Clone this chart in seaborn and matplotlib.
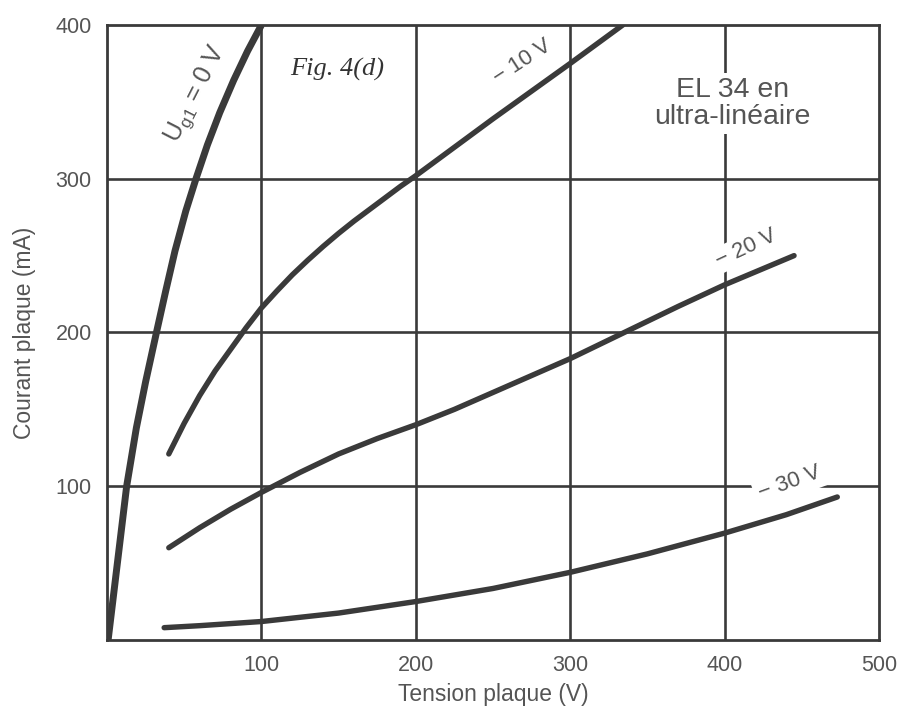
import matplotlib
matplotlib.use("Agg")
import matplotlib.pyplot as plt
import seaborn as sns
import pandas as pd

# ---- data ----
v_0 = [0.7, 5.5, 12.7, 19, 25, 32, 38, 44, 51, 57.6, 65, 73, 82, 91, 100]
i_0 = [0, 40, 100, 138, 168, 200, 227, 253, 279, 300, 322, 343, 364, 383, 400]

v_10 = [40, 50, 60, 70, 80, 90, 100, 110, 120, 130, 140, 150, 160, 170, 180, 190,
        200, 250, 300, 334]
i_10 = [121, 141, 159, 175, 189, 203, 216, 227, 237.5, 247, 256, 264.5, 272.5, 280,
        287.5, 295, 302, 339, 375, 400]

v_20 = [40, 60, 80, 100, 125, 150, 175, 200, 225, 250, 275, 300, 335, 370, 400, 445]
i_20 = [60, 73, 85, 96, 109, 121, 131, 140, 150, 161, 172, 183, 200, 217, 231, 250]

v_30 = [37, 60, 100, 150, 200, 250, 300, 350, 400, 440, 473]
i_30 = [8, 9.3, 12, 17.5, 25, 33.5, 44, 56, 69.5, 81.5, 93]

series = ["0 V", "-10 V", "-20 V", "-30 V"]
x_ticks = [100, 200, 300, 400, 500]
y_ticks = [100, 200, 300, 400]

frames = []
for name, v, i in zip(series, [v_0, v_10, v_20, v_30], [i_0, i_10, i_20, i_30]):
    frames.append(pd.DataFrame({"V": v, "I": i, "curve": name}))
df = pd.concat(frames, ignore_index=True)

sns.set_theme(style="white")
plt.rcParams['font.family'] = ['Liberation Sans', 'DejaVu Sans']

fig = plt.figure(figsize=(8.98, 7.11), dpi=100)
ax = fig.add_axes([0.1192, 0.0999, 0.8596, 0.8649])

ink = "#3a3a3a"
txt = "#555555"

# grid
for xv in x_ticks[:-1]:
    ax.axvline(xv, color=ink, lw=1.9, zorder=1)
for yv in y_ticks[:-1]:
    ax.axhline(yv, color=ink, lw=1.9, zorder=1)

sns.lineplot(data=df[df.curve != "0 V"], x="V", y="I", hue="curve", units="curve",
             estimator=None, sort=False, palette=[ink] * 3, lw=3.9, legend=False,
             ax=ax, zorder=3, solid_capstyle="round", solid_joinstyle="round")
sns.lineplot(data=df[df.curve == "0 V"], x="V", y="I", estimator=None, sort=False,
             color=ink, lw=5.0, legend=False, ax=ax, zorder=3,
             solid_capstyle="butt", solid_joinstyle="round")

ax.set_xlim(0, 500)
ax.set_ylim(0, 400)
ax.set_xticks(x_ticks)
ax.set_yticks(y_ticks)
ax.tick_params(axis="both", length=0, labelsize=15.5, labelcolor=txt, pad=11)
for s in ax.spines.values():
    s.set_color(ink)
    s.set_linewidth(2.0)
ax.set_xlabel("Tension plaque (V)", fontsize=16.5, color=txt, labelpad=5)
ax.set_ylabel("Courant plaque (mA)", fontsize=16.5, color=txt, labelpad=14)

# annotations
ax.text(58, 355, "U$_{\\mathregular{g1}}$ = 0 V", rotation=63, fontsize=18, color=txt,
        ha="center", va="center", zorder=4)
ax.text(269, 376, "− 10 V", rotation=33, fontsize=16, color=txt,
        ha="center", va="center", zorder=4)
ax.text(414, 255, "− 20 V", rotation=25, fontsize=16, color=txt,
        ha="center", va="center", zorder=4,
        bbox=dict(facecolor="white", edgecolor="none", pad=2))
ax.text(442, 102, "− 30 V", rotation=20, fontsize=16, color=txt,
        ha="center", va="center", zorder=4,
        bbox=dict(facecolor="white", edgecolor="none", pad=3))
ax.text(149, 371, "Fig. 4(d)", fontsize=19, color="#333333", style="italic",
        family=["Liberation Serif", "DejaVu Serif"], ha="center", va="center", zorder=4)
ax.text(405, 349, "EL 34 en\nultra-linéaire", fontsize=20.5, color=txt,
        ha="center", va="center", linespacing=1.05, zorder=4,
        bbox=dict(facecolor="white", edgecolor="none", pad=3))

fig.savefig("out.png", dpi=100, facecolor="white")
